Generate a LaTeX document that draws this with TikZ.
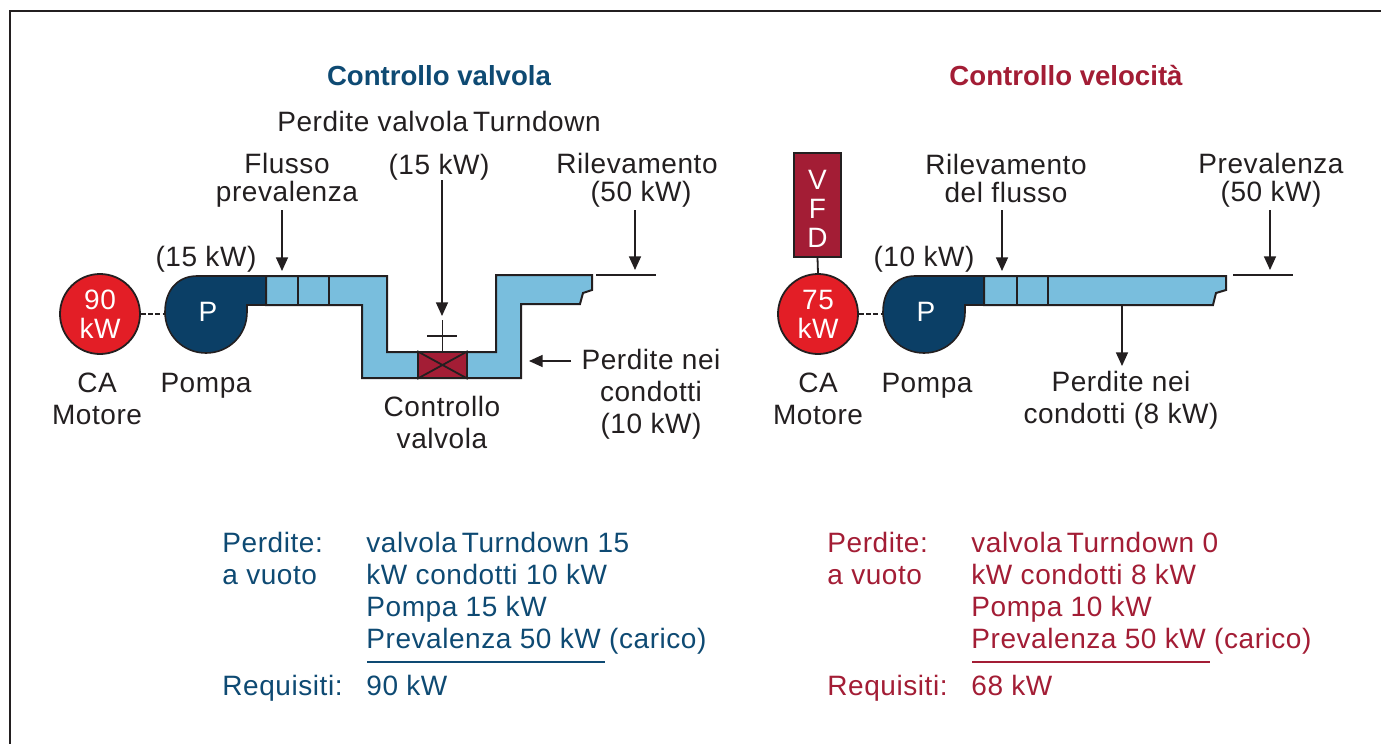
\documentclass[tikz,border=0pt]{standalone}
\usepackage{fontspec}
\setmainfont[LetterSpace=2]{Liberation Sans}
\usetikzlibrary{arrows.meta}
\definecolor{navy}{HTML}{0B3F66}
\definecolor{motred}{HTML}{E31E26}
\definecolor{maroon}{HTML}{A31D35}
\definecolor{duct}{HTML}{79BEDD}
\definecolor{ink}{HTML}{231F20}
\definecolor{bluetxt}{HTML}{0E4A73}
\newcommand{\txtfont}{\fontsize{14}{16}\selectfont}
\tikzset{
  x=0.5pt,y=-0.5pt,
  lbl/.style={align=center,inner sep=0pt,text=ink,font=\txtfont},
  lbltop/.style={align=center,inner sep=0pt,text=ink,font=\fontsize{14}{14}\selectfont},
  lblone/.style={anchor=base,inner sep=0pt,text=ink,font=\txtfont},
  ttl/.style={anchor=base,inner sep=0pt,font=\fontsize{13.8}{16}\selectfont\addfontfeature{LetterSpace=0}\bfseries},
  tab/.style={anchor=base west,inner sep=0pt,font=\txtfont},
  motor/.style={circle,draw=ink,fill=motred,text=white,align=center,line width=0.9pt,minimum size=40pt,inner sep=0pt,font=\fontsize{14}{14.5}\selectfont},
  ductline/.style={draw=ink,fill=duct,line width=1pt,line join=miter},
  pumpbody/.style={draw=ink,fill=navy,line width=0.8pt},
  ptxt/.style={inner sep=0pt,text=white,font=\txtfont},
  arr/.style={draw=ink,line width=0.65pt,-{Triangle[length=6.8pt,width=6pt]}},
  rulel/.style={draw=ink,line width=0.65pt},
  seg/.style={draw=ink,line width=0.9pt},
  shaft/.style={draw=ink,line width=0.9pt,dash pattern=on 2.4pt off 1.2pt},
  valvebox/.style={draw=ink,fill=maroon,line width=0.9pt,minimum width=24.5pt,minimum height=13pt,inner sep=0pt},
  vfdbox/.style={draw=ink,fill=maroon,line width=0.9pt,minimum width=23.5pt,minimum height=52pt,inner sep=0pt},
  vfdtxt/.style={text=white,align=center,inner sep=0pt,font=\fontsize{14}{14.5}\selectfont},
}
\begin{document}
\begin{tikzpicture}
\useasboundingbox (0,0) rectangle (1381,744);
\fill[white] (0,0) rectangle (1381,744);
\draw[ink,line width=0.6pt] (1381,11) -- (10,11) -- (10,744);

% ---------- left system: labels
\node[ttl,text=bluetxt] (t1) at (439,85) {Controllo valvola};
\node[lblone] (l1) at (439,131) {Perdite valvola\hspace{2.5pt}Turndown};
\node[lbltop] (l2) at (287,180) {Flusso\\prevalenza};
\node[lblone] (l3) at (439,174) {(15 kW)};
\node[lbltop] (l4) at (637,180) {Rilevamento\\\hspace*{4pt}(50 kW)};
\node[lblone] (l5) at (206,266) {(15 kW)};
\node[lbl] (l6) at (97,399) {CA\\Motore};
\node[lblone] (l7) at (206,392) {Pompa};
\node[lbl] (l8) at (442,422) {Controllo\\valvola};
\node[lbl] (l9) at (651,394) {Perdite nei\\condotti\\(10 kW)};

% duct
\path[ductline] (266,276) -- (387,276) -- (387,352) -- (496,352) -- (496,275) -- (592,275)
  -- (592,290) -- (583,293) -- (580,304) -- (521,304) -- (521,378) -- (362,378) -- (362,305) -- (266,305) -- cycle;
\coordinate (s1) at (298,276); \coordinate (s1b) at (298,305);
\coordinate (s2) at (329,276); \coordinate (s2b) at (329,305);
\draw[seg] (s1) -- (s1b) (s2) -- (s2b);
% pump
\path[pumpbody] (266,276) -- (197,276) .. controls (178,276) and (165,290) .. (165,312)
  .. controls (165,335) and (183,353) .. (206,353) .. controls (229,353) and (247,335) .. (247,312)
  -- (247,305) -- (266,305) -- cycle;
\node[ptxt] (p1) at (208,312) {P};
\coordinate (p1w) at (165,314);
% motor
\node[motor] (m1) at (100,314) {90\\kW};
\draw[shaft] (m1.east) -- (p1w);
% valve
\node[valvebox] (v1) at (442.5,365) {};
\draw[seg] (v1.north west) -- (v1.south east) (v1.north east) -- (v1.south west);
\coordinate (v1top) at (442.5,320);
\coordinate (v1bl) at (427,336); \coordinate (v1br) at (457,336);
\draw[seg] (v1.north) -- (v1top) (v1bl) -- (v1br);
% level line
\coordinate (h1a) at (596,275); \coordinate (h1b) at (656,275);
\draw[rulel] (h1a) -- (h1b);
% arrows
\coordinate (a1s) at (282,210); \coordinate (a1e) at (282,271);
\draw[arr] (a1s) -- (a1e);
\coordinate (a2s) at (442,180); \coordinate (a2e) at (442,316);
\draw[arr] (a2s) -- (a2e);
\coordinate (a3s) at (635,210); \coordinate (a3e) at (635,270);
\draw[arr] (a3s) -- (a3e);
\coordinate (a4s) at (571,361); \coordinate (a4e) at (529,361);
\draw[arr] (a4s) -- (a4e);

% ---------- right system: labels
\node[ttl,text=maroon] (t2) at (1066,85) {Controllo velocità};
\node[lbltop] (r2) at (1006,178) {Rilevamento\\del flusso};
\node[lbltop] (r4) at (1271,180) {Prevalenza\\(50 kW)};
\node[lblone] (r5) at (924,266) {(10 kW)};
\node[lbl] (r6) at (818,399) {CA\\Motore};
\node[lblone] (r7) at (927,392) {Pompa};
\node[lbl] (r9) at (1121,400.5) {Perdite nei\\condotti (8 kW)};

\path[ductline] (984,276) -- (1226,276) -- (1226,290) -- (1216,293) -- (1213,305) -- (984,305) -- cycle;
\coordinate (s3) at (1017,276); \coordinate (s3b) at (1017,305);
\coordinate (s4) at (1048,276); \coordinate (s4b) at (1048,305);
\draw[seg] (s3) -- (s3b) (s4) -- (s4b);
\path[pumpbody] (984,276) -- (915,276) .. controls (896,276) and (883,290) .. (883,312)
  .. controls (883,335) and (901,353) .. (924,353) .. controls (947,353) and (965,335) .. (965,312)
  -- (965,305) -- (984,305) -- cycle;
\node[ptxt] (p2) at (926,312) {P};
\coordinate (p2w) at (883,314);
\node[motor] (m2) at (818,314) {75\\kW};
\draw[shaft] (m2.east) -- (p2w);
\node[vfdbox] (vfd) at (817.5,205) {};
\node[vfdtxt] (vfdt) at (817.5,209) {V\\F\\D};
\draw[seg] (vfd.south) -- (m2.north);
\coordinate (h2a) at (1233,275); \coordinate (h2b) at (1293,275);
\draw[rulel] (h2a) -- (h2b);
\coordinate (b1s) at (1002,210); \coordinate (b1e) at (1002,271);
\draw[arr] (b1s) -- (b1e);
\coordinate (b2s) at (1270,210); \coordinate (b2e) at (1270,270);
\draw[arr] (b2s) -- (b2e);
\coordinate (b3s) at (1122,305); \coordinate (b3e) at (1122,366);
\draw[arr] (b3s) -- (b3e);

% ---------- left table
\begin{scope}[text=bluetxt]
\node[tab] (a1) at (222,552) {Perdite:};
\node[tab] (a2) at (222,584) {a vuoto};
\node[tab] (a3) at (222,695) {Requisiti:};
\node[tab] (b1) at (366,552) {valvola\hspace{2.5pt}Turndown 15};
\node[tab] (b2) at (366,584) {kW condotti 10 kW};
\node[tab] (b3) at (366,616) {Pompa 15 kW};
\node[tab] (b4) at (366,648) {Prevalenza 50 kW (carico)};
\node[tab] (b5) at (366,695) {90 kW};
\end{scope}
\coordinate (u1a) at (367,662); \coordinate (u1b) at (605,662);
\draw[bluetxt,line width=0.8pt] (u1a) -- (u1b);

% ---------- right table
\begin{scope}[text=maroon]
\node[tab] (c1) at (827,552) {Perdite:};
\node[tab] (c2) at (827,584) {a vuoto};
\node[tab] (c3) at (827,695) {Requisiti:};
\node[tab] (d1) at (971,552) {valvola\hspace{2.5pt}Turndown 0};
\node[tab] (d2) at (971,584) {kW condotti 8 kW};
\node[tab] (d3) at (971,616) {Pompa 10 kW};
\node[tab] (d4) at (971,648) {Prevalenza 50 kW (carico)};
\node[tab] (d5) at (971,695) {68 kW};
\end{scope}
\coordinate (u2a) at (972,662); \coordinate (u2b) at (1210,662);
\draw[maroon,line width=0.8pt] (u2a) -- (u2b);
\end{tikzpicture}
\end{document}
